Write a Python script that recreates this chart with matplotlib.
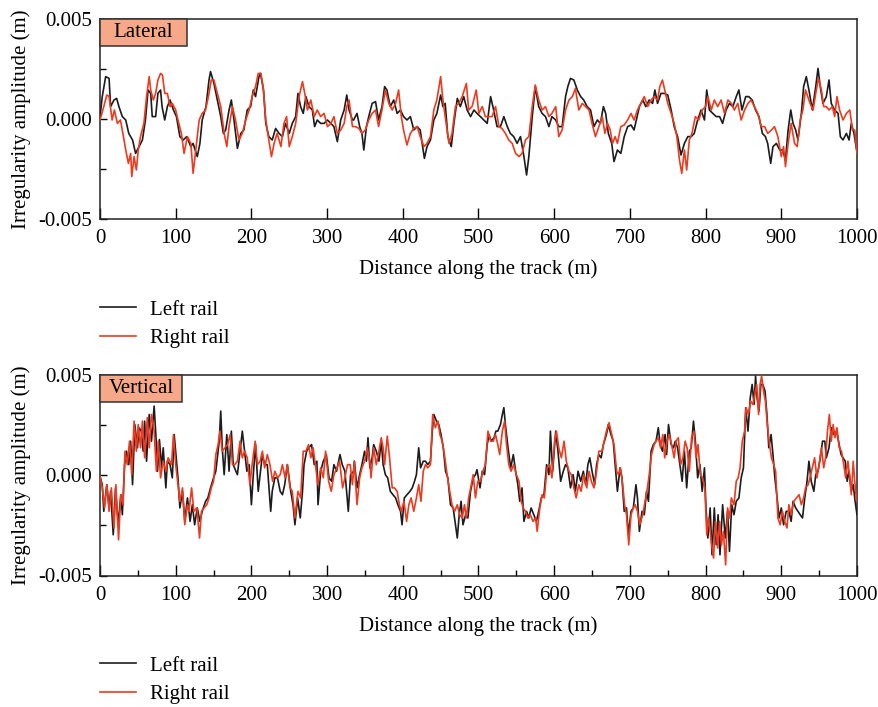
import numpy as np
import matplotlib
matplotlib.use("Agg")
import matplotlib.pyplot as plt
from matplotlib.patches import Rectangle
from matplotlib.ticker import MultipleLocator, FuncFormatter

plt.rcParams['font.family'] = ['Liberation Serif', 'DejaVu Serif']
plt.rcParams['axes.unicode_minus'] = False

# ---------------- data (amplitudes in mm, distance in m) ----------------
lat_left_x = [0, 3, 7.5, 12, 14, 18.5, 22, 25, 29.5, 34, 38, 43, 47, 51.5, 56, 60, 63.5, 67, 69, 73.5,
              76.5, 80, 82, 85.5, 89, 92.5, 97, 101, 105.5, 110, 114.5, 120, 123, 128.5, 132, 135, 140, 144, 146, 150.5,
              155, 159.5, 163, 166, 170.5, 173.5, 177, 181.5, 186, 190, 194.5, 199, 202.5, 205.5, 210, 212, 216, 219, 223, 227.5,
              232, 236.5, 241, 245, 250, 254, 258.5, 261.5, 265, 268.5, 272, 276, 280.5, 283.5, 287, 291.5, 296, 300.5, 305, 309,
              313.5, 318, 322.5, 326, 329, 333.5, 335, 339.5, 343, 346, 348.5, 352, 355, 359.5, 364, 368, 372.5, 376, 379, 383.5,
              388, 392.5, 397, 401, 405.5, 410, 414.5, 419, 423, 428.5, 432, 436.5, 441, 445, 450, 453, 456, 459.5, 464, 467.5,
              472, 476, 480.5, 485, 489.5, 494, 498, 502.5, 507, 511.5, 516, 520, 524.5, 529, 533.5, 538, 542, 546.5, 551, 555.5,
              560, 563.5, 566.5, 571, 575, 579.5, 584, 588.5, 593, 597, 602, 606, 610.5, 615, 618, 621.5, 626, 630.5, 635, 639,
              643.5, 648, 652.5, 657, 661, 665, 668, 671.5, 676, 679, 683.5, 688, 692.5, 697, 701.5, 705.5, 709, 712.5, 717, 721,
              725.5, 730, 733, 736.5, 741, 745.5, 750, 754.5, 758.5, 763, 767.5, 772, 776.5, 781, 785, 789.5, 794, 798.5, 801.5, 805,
              809.5, 814, 818.5, 822.5, 827, 831.5, 836, 840.5, 844, 848, 853, 857, 861.5, 866, 870.5, 875, 879, 882, 886, 889,
              893.5, 898, 902, 905.5, 909, 912.5, 915.5, 919, 922, 926.5, 929.5, 933, 936.5, 941, 945.5, 948.5, 951.5, 955, 959.5, 963,
              966, 970.5, 975, 978, 981.5, 986, 989.5, 992.5, 996, 999.5]
lat_left_y = [0.12, 1.12, 2.12, 2.03, 0.62, 0.95, 1.03, 0.62, 0.12, -0.05, -0.72, -1.05, -1.72, -1.38, -1.05, -0.05, 1.45, 1.28, 0.12, 0.12,
              1.28, 1.45, 0.62, -0.05, 0.62, 0.95, 0.45, 0.12, -0.88, -1.05, -0.88, -1.38, -1.22, -1.88, -1.22, -0.05, 0.62, 1.95, 2.37, 1.78,
              0.95, 0.12, -0.72, -0.55, 0.45, 0.95, -0.05, -1.47, -0.72, -0.55, 0.45, 0.62, 1.45, 1.12, 2.12, 2.28, 1.45, -0.22, -0.88, -1.05,
              -0.47, -0.72, -0.88, -0.22, -0.72, -0.22, 0.12, 1.28, 0.62, 0.28, 1.12, 0.62, 0.45, -0.38, -0.05, -0.22, -0.22, -0.05, -0.22, -0.38,
              -1.13, -0.05, 0.45, 1.2, 0.45, -0.05, -0.05, 0.28, -0.38, -0.72, -1.55, -0.38, 0.12, 0.78, 0.87, -0.05, 0.62, 1.62, 1.45, 0.62,
              0.95, 0.28, 0.45, 0.12, -0.05, 0.12, -0.55, -0.38, -0.55, -1.97, -1.38, -1.05, -0.05, 0.28, 1.2, 0.62, 0.78, -0.88, -1.38, -0.22,
              1.03, 0.62, 1.12, 0.45, 0.12, 0.45, 0.28, 0.12, -0.05, -0.22, 1.12, 0.45, -0.38, -0.38, 0.12, -0.38, -0.72, -0.88, -1.22, -0.88,
              -1.88, -2.8, -1.88, 0.12, 1.62, 0.62, 0.28, 0.12, -0.38, 0.12, -0.05, -0.38, -0.38, 1.12, 1.62, 2.03, 1.95, 1.45, 1.12, 0.95,
              0.62, 0.45, -0.38, -0.05, -0.22, 0.62, 0.28, -0.72, -1.22, -2.13, -1.55, -1.72, -0.88, -0.38, -0.3, -0.55, 0.03, 0.62, 0.95, 0.62,
              0.95, 0.78, 1.45, 0.78, 1.28, 1.28, 1.2, 0.45, -0.38, -0.88, -1.8, -1.22, -0.88, -0.88, -0.72, -0.05, 0.45, -0.05, 1.45, 0.45,
              0.28, 0.12, 0.12, -0.22, 0.45, 0.78, 0.62, 1.12, 1.45, 0.45, 1.12, 1.12, 0.95, 0.45, 0.12, -0.72, -0.88, -1.22, -2.22, -1.38,
              -1.22, -1.55, -1.55, -2.05, -0.55, 0.45, -0.22, -0.55, -1.05, 0.28, 1.62, 2.12, 1.45, 0.45, 1.62, 2.53, 1.62, 0.78, 1.12, 1.95,
              0.78, 0.45, 0.28, -0.88, -1.05, -0.72, -1.05, -0.22, -0.72, -1.55]

lat_right_x = [0, 5, 9, 12, 16, 19, 23, 27, 31, 34, 37.5, 40.5, 42, 45, 48, 50.5, 53.5, 58, 61.5, 65,
               67, 70.5, 73.5, 76.5, 80, 82.5, 85.5, 89, 92.5, 95.5, 100, 103, 107.5, 111, 115.5, 120, 123, 126.5, 131, 135,
               139.5, 144, 147, 150.5, 155, 159.5, 164, 167.5, 170.5, 175, 179, 183.5, 188, 192.5, 197, 201, 205.5, 209, 212.5, 215.5,
               219, 223, 226.5, 230, 234, 239, 243, 246.5, 250, 254, 258.5, 263, 267.5, 270.5, 274, 278.5, 283, 287, 291.5, 296,
               300.5, 305, 309, 313.5, 318, 322.5, 326, 329, 333.5, 337.5, 342, 346, 350.5, 355, 359.5, 364, 368, 372.5, 377, 381.5,
               386, 390.5, 394.5, 398, 401, 405.5, 410, 414.5, 419, 423, 428, 432, 436.5, 441, 445, 450, 453, 456, 461, 465,
               469.5, 474, 478.5, 484, 487, 491.5, 497, 500.5, 505, 509, 513.5, 518, 522.5, 527, 531, 535.5, 540, 544.5, 549, 553.5,
               557.5, 562, 566.5, 571, 575, 579.5, 584, 588.5, 593, 597, 602, 606, 610.5, 615, 619.5, 624, 628, 632.5, 637, 641.5,
               646, 650, 654.5, 659, 663.5, 667, 670.5, 674, 677, 680.5, 683.5, 688, 692.5, 697, 701.5, 705.5, 710, 714.5, 719, 723.5,
               728, 732, 736.5, 739.5, 743, 747, 750, 754.5, 758.5, 762, 765.5, 768.5, 772, 775, 778.5, 782, 786.5, 791, 795.5, 800,
               803, 807.5, 811.5, 816, 820.5, 825, 829.5, 834, 838, 842.5, 847, 851.5, 856, 860, 864.5, 869, 873.5, 878, 882, 887,
               891, 895.5, 900, 903, 905.5, 909, 913, 917.5, 921, 925, 928.5, 932, 935, 938, 942, 945.5, 949, 953, 956, 959.5,
               963, 967.5, 970.5, 973.5, 977, 981.5, 986, 990.5, 994, 997, 1000]
lat_right_y = [-0.05, 0.62, 1.2, 1.12, -0.05, 0.45, -0.22, -0.05, -0.88, -1.55, -2.22, -1.72, -2.88, -1.88, -2.55, -1.55, -0.88, -0.22, 1.12, 2.12,
               1.45, 0.95, 1.28, 1.95, 2.28, 2.2, 1.28, 1.28, 0.62, 0.78, 0.45, -0.05, -0.72, -1.72, -0.88, -1.22, -2.72, -1.55, -0.05, 0.28,
               0.45, 1.28, 1.95, 1.95, 1.28, 0.62, -0.72, -1.38, -0.38, 0.62, -0.05, -1.05, -0.72, -0.05, 0.45, 1.12, 1.62, 2.28, 2.28, 1.62,
               -0.05, -1.05, -1.88, -1.22, -0.72, -1.38, -0.22, 0.12, -1.38, -0.88, -0.22, 1.12, 1.87, 1.28, 0.45, 0.95, 0.12, 0.45, 0.12, 0.28,
               -0.38, -0.22, 0.12, -0.72, -0.55, -0.22, 0.62, 0.95, -0.38, -0.38, -0.47, -0.72, -0.55, -0.05, 0.28, 0.45, -0.38, 0.45, 1.45, 0.78,
               0.45, 0.78, 1.45, 0.12, -0.55, -1.3, -0.72, -0.47, -0.38, -0.88, -1.38, -1.22, -0.88, 0.45, 0.95, 2.12, 0.95, 0.12, -1.22, -0.72,
               0.62, 0.78, 1.12, 1.78, 0.45, 0.62, 1.45, 0.28, 0.62, 0.12, 0.12, 0.12, 0.62, -0.38, -0.47, -0.72, -1.05, -1.22, -1.72, -1.88,
               -1.72, -1.05, -0.88, 0.62, 1.7, 0.95, 0.45, 0.62, 0.12, 0.28, 0.62, -0.88, -0.55, 0.45, 0.95, 1.12, 1.53, 0.45, 0.78, 0.62,
               0.45, -0.22, -0.88, -0.38, 0.12, -0.72, -0.22, -0.55, -1.22, -0.88, -1.22, -0.38, -0.3, -0.05, 0.28, -0.05, 0.45, 0.78, 1.12, 0.62,
               0.95, 1.12, 0.95, 1.62, 1.95, 1.28, 0.78, 0.28, -0.22, -0.88, -2.05, -2.72, -1.55, -2.55, -1.05, -0.72, 0.12, -0.05, 0.45, 0.62,
               1.12, 0.45, 0.95, 0.62, 0.95, 0.28, 0.95, 0.78, 0.45, 0.78, -0.05, 0.45, 0.78, 0.95, 0.62, 0.28, -0.38, -0.38, -0.72, -0.55,
               -0.38, -0.88, -1.88, -1.38, -2.38, -1.22, -0.22, -1.22, -1.38, -0.05, 0.45, 1.45, 1.12, 0.78, 0.45, 1.28, 2.03, 1.45, 0.62, 0.62,
               0.45, 0.62, 0.12, 1.12, 0.45, -0.05, 0.28, 0.45, -0.55, -0.55, -1.72]

ver_left_x = [0, 3, 5, 9, 12, 14, 17.5, 20.5, 24, 27.5, 29.5, 32.5, 35, 38, 40.5, 43, 46, 49.5, 51.5, 54.5,
              57, 59, 61.5, 65, 68, 71.5, 74, 76, 78.5, 81.5, 83.5, 87, 89, 92.5, 95.5, 98, 101, 103, 105.5, 109,
              112, 115.5, 119, 122, 125, 128.5, 132, 135, 139.5, 142.5, 146, 150, 153, 155, 157.5, 159.5, 161.5, 164, 167.5, 170.5,
              173.5, 176, 179.5, 181.5, 185, 188, 191, 194, 197, 200, 202.5, 205.5, 209, 211.5, 214.5, 217.5, 221, 225.5, 227.5, 231,
              234.5, 238, 241, 244, 247.5, 252, 255, 257.5, 261, 264.5, 267.5, 269.5, 273, 276, 279.5, 283, 286.5, 288, 291.5, 295,
              299, 302.5, 306, 309, 312.5, 317, 320, 323.5, 328, 331, 335, 336, 339.5, 343, 346, 349.5, 352, 354, 356.5, 359.5,
              361.5, 365, 368.5, 371.5, 374, 377, 380, 383.5, 387, 390.5, 393.5, 397, 399, 402, 405.5, 409.5, 412.5, 415.5, 418, 421,
              423.5, 427, 430, 433, 436.5, 439, 441, 444.5, 447.5, 450.5, 453.5, 456.5, 459.5, 463, 466.5, 469, 472, 474.5, 477, 479.5,
              483, 486, 489.5, 493, 496, 498, 502, 505, 508, 511.5, 514, 516.5, 520.5, 523, 525.5, 529, 531.5, 533.5, 535.5, 539,
              542.5, 546, 549, 552, 554.5, 557.5, 560, 563.5, 566.5, 569.5, 573, 576.5, 579.5, 583, 586.5, 590, 593, 595, 598, 602,
              605, 608.5, 612, 615, 618, 621.5, 625, 628, 631.5, 635, 638.5, 641.5, 644.5, 647, 650, 653.5, 656, 659, 662, 665,
              669, 671.5, 675, 678, 680.5, 683.5, 687, 689.5, 692.5, 695.5, 698, 701.5, 704.5, 708, 710, 712.5, 716, 719, 722, 724.5,
              728, 731, 734.5, 737.5, 740, 743, 746.5, 748.5, 751, 754.5, 757.5, 760, 763, 766, 769, 772, 775, 778.5, 781, 784,
              786.5, 789.5, 792.5, 795.5, 798.5, 800.5, 803, 806, 808.5, 811.5, 814, 816.5, 819, 822.5, 826, 829, 831.5, 834.5, 837.5, 840.5,
              844, 847, 850, 853, 856, 859, 861.5, 864, 866, 868, 870.5, 873, 875.5, 878.5, 881, 883.5, 886.5, 889, 891.5, 894.5,
              897, 900, 903, 906.5, 910, 913, 915.5, 919, 922, 925, 928, 931, 934, 936.5, 939.5, 943, 945.5, 948.5, 951.5, 954.5,
              957.5, 959.5, 963, 966, 969.5, 973, 976.5, 979, 981.5, 984.5, 987, 989.5, 992.5, 995, 997.5, 1000]
ver_left_y = [-0.05, -0.47, -1.8, -0.47, -1.63, -0.8, -2.97, -0.63, -2.47, -0.97, -1.97, 0.53, 1.2, 0.53, 1.7, -0.47, 2.53, 1.37, 2.37, 2.2,
              1.2, 2.7, 0.7, 3.03, 1.7, 3.45, 1.87, 0.2, 1.78, 0.37, 1.37, -0.63, 0.7, 0.53, -0.13, 2.03, 0.7, -0.13, -1.63, -0.8,
              -2.3, -1.13, -2.3, -1.47, -2.47, -1.63, -2.3, -1.8, -1.3, -1.13, -0.63, -0.13, 0.2, 0.87, 1.7, 3.2, 1.37, 0.03, 2.03, 0.2,
              2.2, 0.53, 0.2, 0.03, 1.2, 2.2, 1.2, 0.2, 0.53, -1.47, 0.03, 1.53, -0.8, 0.03, 1.03, 0.53, 0.53, -1.8, -0.8, -0.13,
              -0.13, -0.8, -0.97, -0.47, 0.53, -0.8, -1.47, -2.47, -1.13, -2.13, -0.8, 0.53, 1.2, 1.37, 1.53, 0.53, 0.7, -1.47, 0.2, 0.7,
              1.03, -0.13, -0.3, 0.53, 0.2, 1.03, 0.53, 0.2, -1.8, 0.03, 0.2, 0.7, -0.63, 0.03, 0.53, 1.2, 0.7, 1.87, 0.37, 0.87,
              1.53, 1.2, 0.7, 1.7, 0.53, 0.03, -0.13, -0.8, -0.97, -1.13, -1.47, -1.8, -2.47, -1.13, -0.97, -0.8, -0.63, -0.3, 0.03, 1.37,
              0.37, 0.7, 0.7, 0.53, 0.7, 2.2, 3.03, 2.7, 2.53, 2.03, 1.37, 0.2, -0.13, -1.47, -1.63, -2.3, -3.13, -1.97, -1.3, -2.47,
              -1.97, -2.13, -0.8, -0.13, 0.03, 0.28, -0.63, 0.2, 0.03, 1.53, 2.03, 1.7, 1.87, 2.2, 2.2, 2.53, 3.03, 3.37, 2.53, 1.37,
              0.37, 1.03, 0.2, -0.47, -1.3, -0.63, -2.3, -1.8, -2.13, -1.63, -1.97, -2.3, -1.8, -1.13, -0.97, 0.53, 0.03, 2.2, 0.2, 2.2,
              1.2, -0.3, 0.2, 0.53, 0.37, -0.63, 0.03, -0.8, 0.2, -0.3, 0.2, -0.47, 0.53, 0.87, 0.2, -0.47, 0.53, 1.03, 0.87, 1.53,
              2.03, 2.53, 2.03, 1.7, 0.53, -0.8, 0.37, -0.13, -1.8, -1.63, -2.97, -1.8, -1.63, -0.47, -1.13, -2.8, -1.8, -1.97, -0.8, -1.3,
              1.2, 1.53, 1.7, 2.37, 1.53, 1.2, 2.03, 1.03, 2.53, 1.53, 1.37, 1.7, 1.37, 0.53, -0.3, 1.2, -0.63, 1.2, 1.37, 2.7,
              1.7, -0.13, 0.53, -0.8, 0.37, -1.63, -3.13, -1.63, -3.97, -1.63, -3.47, -1.97, -3.97, -1.47, -3.13, -1.8, -3.8, -1.47, -1.97, -1.3,
              -1.13, -0.13, 0.37, 3.37, 2.2, 3.87, 4.53, 3.53, 4.95, 3.87, 3.2, 4.53, 4.53, 4.2, 3.03, 1.37, 2.03, 1.03, -0.13, -1.13,
              -2.13, -1.63, -2.47, -1.8, -1.8, -2.3, -1.3, -1.63, -1.8, -1.97, -2.13, -1.13, -0.3, 0.7, -0.3, -0.8, 0.03, 0.2, 0.87, 1.7,
              1.7, 0.87, 1.37, 2.37, 2.03, 2.2, 1.53, 1.03, 0.87, 0.7, -0.3, 0.2, -0.8, -0.47, -1.3, -1.97]

ver_right_x = [0, 3, 6, 9, 12, 15, 18.5, 21, 24.5, 27.5, 30.5, 33, 36, 39, 42, 45, 48, 50.5, 53.5, 56,
               59, 62.5, 65, 68, 71.5, 74.5, 77, 80, 83.5, 87, 90, 94.5, 97, 100, 102, 105.5, 109, 112, 115.5, 117.5,
               121, 124, 128, 131.5, 134, 137.5, 141, 144, 147, 150, 153, 156, 158.5, 161.5, 165, 168.5, 172, 175, 178, 181.5,
               185, 188, 191, 194.5, 198, 201.5, 205, 208, 211.5, 214.5, 217.5, 221, 224.5, 228, 231, 234.5, 238, 241, 244.5, 247.5,
               251, 254, 257.5, 261.5, 265, 268.5, 272, 275.5, 278.5, 281.5, 285, 288, 291.5, 295, 298, 302, 305.5, 309, 313, 316.5,
               320.5, 323.5, 327, 330.5, 333.5, 336, 339.5, 343, 346, 349.5, 353, 356.5, 358, 361.5, 365, 368.5, 371.5, 374, 376, 379.5,
               382.5, 386, 389, 392.5, 395.5, 398, 401.5, 405, 408, 411, 414.5, 418, 421, 424, 427, 430, 433, 436.5, 439.5, 443,
               446.5, 449, 452, 455, 458.5, 462, 465, 468.5, 472, 475, 478.5, 481.5, 484, 487, 490.5, 493, 496, 499, 502.5, 506,
               509, 512.5, 516, 519.5, 522.5, 525.5, 528, 531.5, 534.5, 537, 540, 543, 546.5, 550, 553.5, 556.5, 559, 562, 565, 568.5,
               572, 575.5, 577.5, 581, 584, 587, 590.5, 594, 597, 600.5, 603, 606, 609.5, 613, 616, 619.5, 622.5, 626, 629, 632.5,
               635.5, 639, 643, 646, 649, 652.5, 656, 659, 663, 666, 669, 672.5, 676, 679, 682.5, 685, 687.5, 690.5, 693, 695.5,
               698.5, 701.5, 704.5, 707, 710, 713, 717, 720, 722.5, 725.5, 728.5, 732, 734.5, 737.5, 740.5, 743.5, 746, 749, 752, 755,
               758.5, 761, 764, 767, 770, 773, 775.5, 778.5, 781.5, 784.5, 787.5, 790, 793, 796, 799, 801.5, 804, 807.5, 810.5, 813,
               816, 818.5, 821, 823.5, 826.5, 829, 831.5, 834, 837.5, 840.5, 843, 845.5, 848.5, 851.5, 853.5, 856.5, 859.5, 862.5, 865, 867.5,
               870, 872, 874, 876.5, 879, 881.5, 884.5, 887, 890, 892.5, 895.5, 898.5, 901.5, 904.5, 907.5, 910, 913, 916.5, 920, 923.5,
               926.5, 929.5, 932, 935.5, 938.5, 941, 944, 947, 950, 953, 956, 958.5, 961, 963.5, 966, 968.5, 971, 973.5, 976.5, 979.5,
               982.5, 985, 988, 990.5, 992.5, 995, 997, 999.5]
ver_right_y = [-0.05, -0.63, -1.63, -0.47, -1.8, -0.63, -2.63, -0.47, -3.22, -0.97, -1.47, 1.2, 0.53, 1.7, 0.03, 2.7, 1.2, 2.53, 1.37, 2.7,
               0.87, 2.87, 1.37, 3.03, 2.2, 0.2, 1.7, -0.13, 0.7, 0.2, 0.87, 0.53, 2.03, 0.53, -0.13, -1.3, -0.63, -2.47, -1.47, -1.8,
               -0.63, -1.8, -1.63, -3.13, -1.8, -1.63, -1.47, -1.13, -0.63, -0.3, 1.03, 1.53, 2.2, 1.2, 1.37, 1.53, 2.03, 0.53, 0.53, 0.7,
               1.7, 0.87, 1.2, 0.87, -0.47, 0.7, 1.7, 0.53, 0.7, 1.2, 0.37, 1.03, 0.53, -0.3, 0.2, -0.13, 0.03, 0.53, -0.13, 0.53,
               -0.63, -0.8, -2.13, -0.8, -1.13, 1.2, 1.2, 1.53, 0.87, 1.37, 0.37, -0.47, 0.37, -0.13, 1.2, -0.3, -0.8, 0.03, 0.37, 0.7,
               -0.63, -0.13, 0.53, 0.53, -0.47, 0.7, -1.47, -0.13, 0.37, 0.7, 1.37, 0.7, -0.13, 1.37, 0.53, 1.2, 1.87, 1.37, 0.53, 1.95,
               0.87, -0.63, -0.63, -0.8, -1.47, -1.8, -1.3, -2.3, -1.47, -1.13, -1.8, -1.13, -0.47, -1.3, 0.2, 0.53, 0.37, 0.53, 3.03, 2.37,
               2.7, 2.03, 1.7, 1.03, 0.03, -0.8, -1.47, -1.8, -1.47, -1.97, -2.13, -1.47, -2.13, -1.13, -0.47, 0.03, -1.13, -0.3, -0.3, 0.2,
               0.53, 2.2, 1.7, 1.7, 2.03, 1.53, 1.03, 2.2, 2.7, 1.53, 0.53, 0.2, 0.53, 0.03, -0.3, -1.3, -1.63, -1.8, -2.13, -1.97,
               -2.3, -2.13, -2.8, -1.63, -0.97, -1.13, 0.37, 0.53, -0.13, 1.7, 2.2, 1.37, 0.87, 1.7, 0.7, 0.2, 0.03, -0.63, -1.13, -0.47,
               -0.8, 0.03, -0.63, 0.2, -0.3, -0.63, 0.2, 1.2, 1.2, 1.7, 2.2, 2.62, 2.03, 1.53, 0.2, 0.03, 0.37, -0.47, -1.47, -1.97,
               -3.47, -1.97, -1.63, -1.47, -1.8, -2.47, -1.97, -1.3, -0.8, 0.03, 1.03, 1.53, 1.7, 1.87, 1.37, 2.03, 0.87, 1.7, 2.03, 1.53,
               0.87, 1.7, 1.87, 0.53, 0.87, 1.7, 1.37, 0.2, 1.87, 2.2, 0.87, 1.53, 0.03, -0.13, -0.63, -2.97, -2.13, -3.3, -4.13, -2.3,
               -3.63, -2.3, -3.47, -2.8, -4.47, -1.63, -2.13, -1.13, -1.47, -0.3, -0.13, 0.37, 1.7, 2.2, 3.37, 3.03, 3.7, 3.53, 4.03, 4.53,
               3.03, 4.53, 4.95, 4.2, 3.7, 2.53, 1.53, 0.87, 0.53, 0.2, -2.13, -2.47, -1.8, -2.3, -2.63, -1.47, -1.97, -1.3, -1.13, -0.97,
               -1.47, -1.13, -0.63, -0.47, -0.03, 0.37, 0.87, -0.13, 0.53, 1.37, 0.37, 0.87, 2.2, 3.03, 1.7, 2.53, 1.87, 2.37, 1.37, 1.2,
               0.53, -0.13, 0.7, -0.13, -0.97, 0.7, -0.3, -1.3]

panel_titles = ['Lateral', 'Vertical']
series_labels = ['Left rail', 'Right rail']
x_ticks = [0, 100, 200, 300, 400, 500, 600, 700, 800, 900, 1000]
y_ticks = [-0.005, 0.0, 0.005]

MM = 1e-3
black = '#1c1c1c'
red = '#EE3A1E'
box_fc = '#F6A888'
FS = 15

fig = plt.figure(figsize=(8.79, 7.07), dpi=100)
W, H = 879.0, 707.0
ax_top = fig.add_axes([100 / W, 1 - 219 / H, 757 / W, 200 / H])
ax_bot = fig.add_axes([100 / W, 1 - 575.5 / H, 757 / W, 200.5 / H])

panels = [
    (ax_top, lat_left_x, lat_left_y, lat_right_x, lat_right_y, False),
    (ax_bot, ver_left_x, ver_left_y, ver_right_x, ver_right_y, True),
]

fmt = FuncFormatter(lambda v, p: f"{v:.3f}" if abs(v) > 1e-9 else "0.000")

legend_tops = [300, 656]
for (ax, lx, ly, rx, ry, xminor), title, ltop in zip(panels, panel_titles, legend_tops):
    l1, = ax.plot(lx, np.array(ly) * MM, color=black, lw=1.2, label=series_labels[0], zorder=3)
    l2, = ax.plot(rx, np.array(ry) * MM, color=red, lw=1.2, label=series_labels[1], zorder=4)
    ax.set_xlim(0, 1000)
    ax.set_ylim(-0.005, 0.005)
    ax.set_xticks(x_ticks)
    ax.set_yticks(y_ticks)
    ax.yaxis.set_minor_locator(MultipleLocator(0.0025))
    if xminor:
        ax.xaxis.set_minor_locator(MultipleLocator(50))
    ax.yaxis.set_major_formatter(fmt)
    ax.tick_params(axis='x', which='major', direction='in', length=8, width=1, labelsize=FS, pad=7.5)
    ax.tick_params(axis='x', which='minor', direction='in', length=4, width=1)
    ax.tick_params(axis='y', which='major', direction='in', length=5, width=1, labelsize=FS, pad=6)
    ax.tick_params(axis='y', which='minor', direction='in', length=4, width=1)
    for s in ax.spines.values():
        s.set_linewidth(1.1)
        s.set_color('#222222')
    ax.set_xlabel('Distance along the track (m)', fontsize=FS, labelpad=8)
    ax.set_ylabel('Irregularity amplitude (m)', fontsize=FS, labelpad=5)
    # title box
    bw = (87 if title == 'Lateral' else 82) / 757
    bh = 27 / 200
    ax.add_patch(Rectangle((0, 1 - bh), bw, bh, transform=ax.transAxes, facecolor=box_fc,
                           edgecolor='#333333', lw=1.1, zorder=6, clip_on=False))
    ax.text(bw / 2, 1 - bh / 2, title, transform=ax.transAxes, ha='center', va='center',
            fontsize=FS, zorder=7)
    fig.legend(handles=[l1, l2], loc='upper left', bbox_to_anchor=(100 / W, 1 - ltop / H),
               frameon=False, fontsize=FS, handlelength=1.73, handletextpad=0.65,
               labelspacing=0.42, borderpad=0, borderaxespad=0)

fig.savefig('out.png', dpi=100)
